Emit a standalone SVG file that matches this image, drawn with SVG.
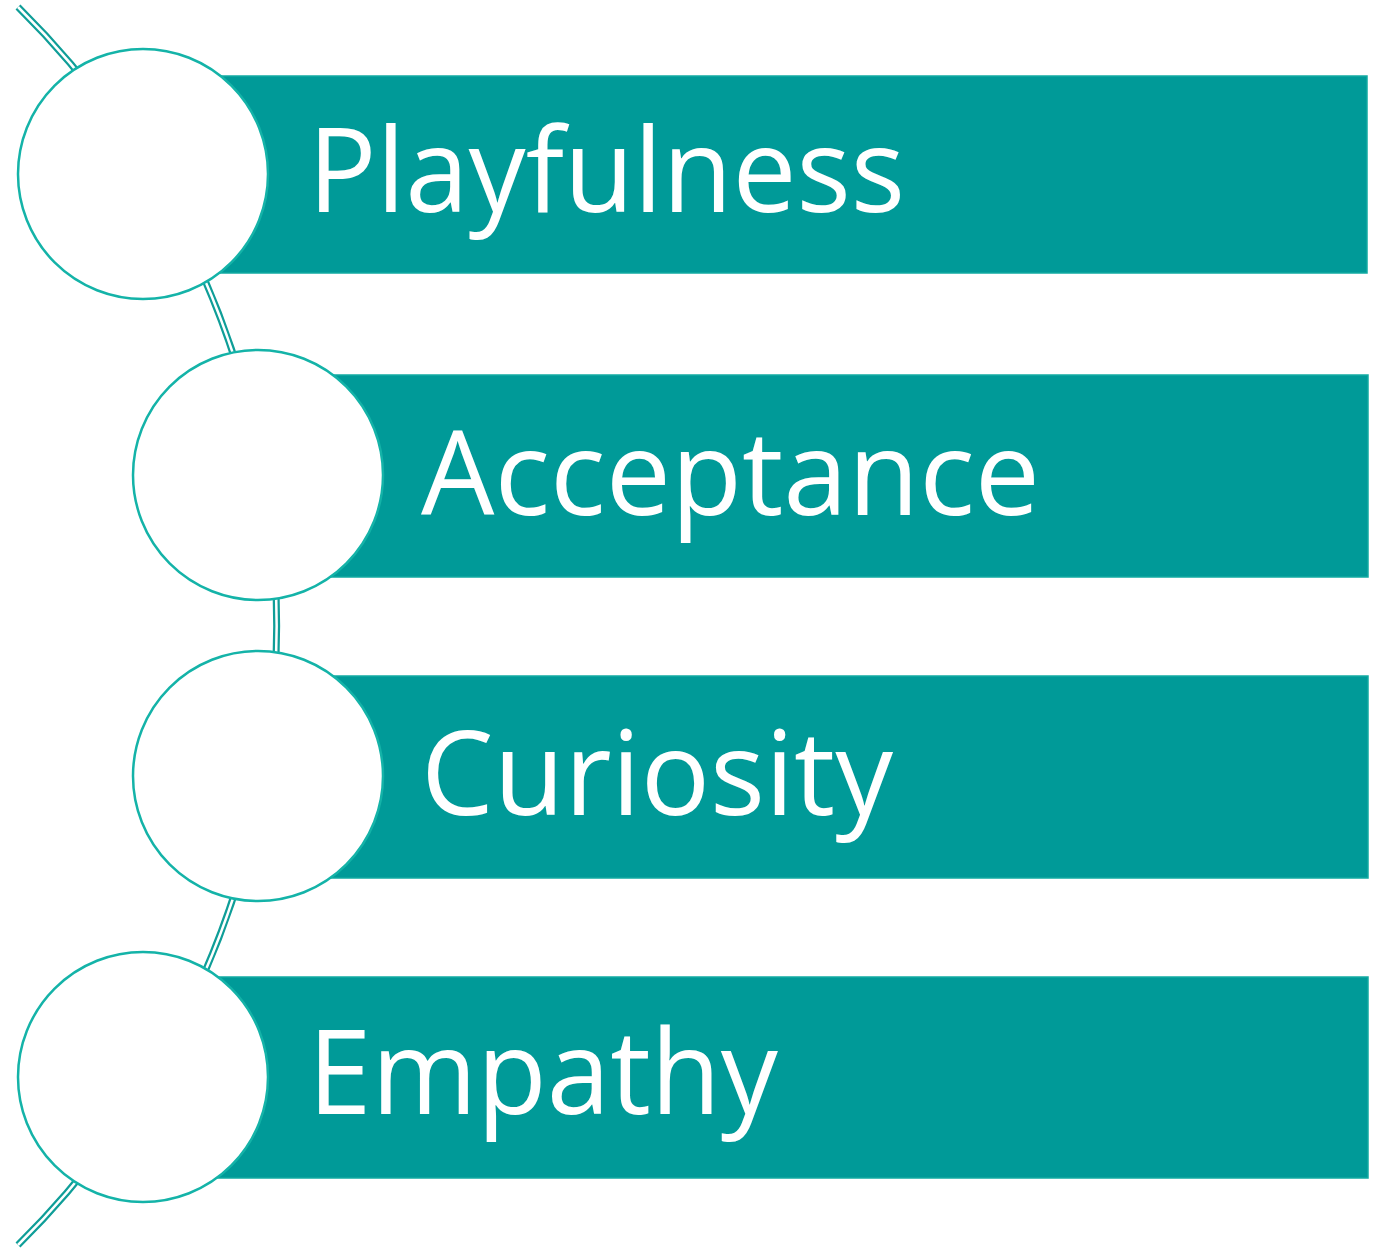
<svg xmlns="http://www.w3.org/2000/svg" width="1382" height="1248" viewBox="0 0 1382 1248">
<style>
.bar{fill:#009a98;stroke:#12aaa2;stroke-width:1.5}
.node circle{fill:#ffffff;stroke:#14b3a8;stroke-width:2.5}
.lbl{font-family:"Open Sans","Liberation Sans",sans-serif;font-size:118px;fill:#ffffff}
</style>
<rect width="1382" height="1248" fill="#ffffff"/>
<g id="connectors">
<path d="M 18 7 A 870 870 0 0 1 18 1245" fill="none" stroke="#0f9e98" stroke-width="7"/>
<path d="M 18 7 A 870 870 0 0 1 18 1245" fill="none" stroke="#ffffff" stroke-width="2.5"/>
</g>
<g id="node1" class="node">
<rect class="bar" x="150" y="76" width="1217" height="197"/>
<circle cx="143" cy="174" r="125"/>
<text class="lbl" x="308" y="212" textLength="597" lengthAdjust="spacingAndGlyphs">Playfulness</text>
</g>
<g id="node2" class="node">
<rect class="bar" x="265" y="375" width="1103" height="202"/>
<circle cx="258" cy="475" r="125"/>
<text class="lbl" x="421" y="515" textLength="619" lengthAdjust="spacingAndGlyphs">Acceptance</text>
</g>
<g id="node3" class="node">
<rect class="bar" x="265" y="676" width="1103" height="202"/>
<circle cx="258" cy="776" r="125"/>
<text class="lbl" x="421" y="815" textLength="472" lengthAdjust="spacingAndGlyphs">Curiosity</text>
</g>
<g id="node4" class="node">
<rect class="bar" x="150" y="977" width="1218" height="201"/>
<circle cx="143" cy="1077" r="125"/>
<text class="lbl" x="308" y="1114" textLength="470" lengthAdjust="spacingAndGlyphs">Empathy</text>
</g>
</svg>
